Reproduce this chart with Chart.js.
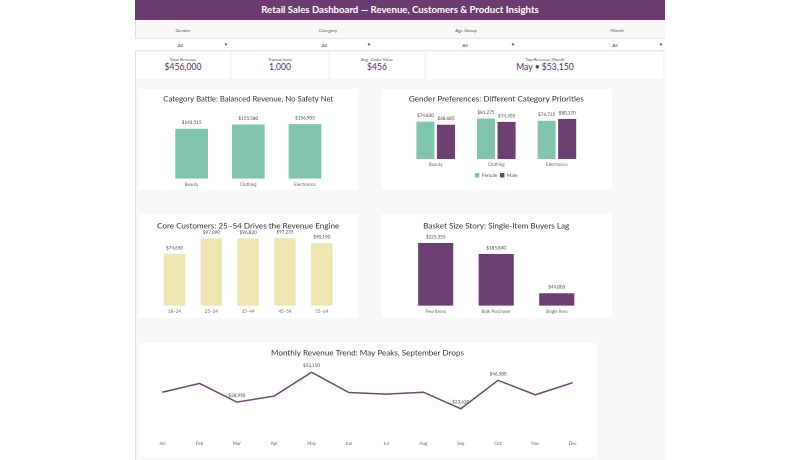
<!DOCTYPE html>
<html>
<head>
<meta charset="utf-8">
<script src="https://cdn.jsdelivr.net/npm/chart.js@4.4.1/dist/chart.umd.min.js"></script>
<style>
  html,body{margin:0;padding:0;background:#fff;width:800px;height:460px;overflow:hidden;font-family:Lato,"Open Sans",sans-serif;}
  #dash{position:absolute;left:135px;top:0;width:530px;height:460px;background:#f9f7f7;border-left:1px solid #e2e0e0;box-sizing:border-box;}
  #header{position:absolute;left:135px;top:0;width:530px;height:19.5px;background:#6c3b72;color:#fff;font-weight:bold;font-size:9.6px;line-height:19.5px;text-align:center;}
  .flabel{position:absolute;top:27px;font-size:4.6px;color:#555;transform:translateX(-50%);white-space:nowrap;}
  .fall{position:absolute;top:41.8px;font-size:4.6px;color:#444;transform:translateX(-50%);}
  .farrow{position:absolute;top:41.5px;font-size:4.4px;color:#444;transform:translateX(-50%);}
  #frow{position:absolute;left:135px;top:38px;width:530px;height:13px;background:#fff;border-top:1px solid #e7e5e5;border-bottom:1px solid #e7e5e5;box-sizing:border-box;}
  .kpi{position:absolute;top:51.5px;height:27px;background:#fff;border-radius:1px;box-shadow:0 0 1px rgba(0,0,0,0.08);}
  .klabel{position:absolute;top:5px;width:100%;text-align:center;font-size:4.4px;color:#555;}
  .kval{position:absolute;top:10.5px;width:100%;text-align:center;font-size:8.6px;color:#5b2c60;}
  .panel{position:absolute;background:#fff;}
  .cwrap{position:absolute;}
</style>
</head>
<body>
<div id="dash"></div>
<div id="header">Retail Sales Dashboard — Revenue, Customers &amp; Product Insights</div>

<div id="frow"></div>
<div class="flabel" style="left:183px">Gender</div>
<div class="flabel" style="left:328px">Category</div>
<div class="flabel" style="left:466px">Age Group</div>
<div class="flabel" style="left:617px">Month</div>
<div class="fall" style="left:180.5px">All</div>
<div class="fall" style="left:324.5px">All</div>
<div class="fall" style="left:465px">All</div>
<div class="fall" style="left:615px">All</div>
<div class="farrow" style="left:226px">▼</div>
<div class="farrow" style="left:369px">▼</div>
<div class="farrow" style="left:513px">▼</div>
<div class="farrow" style="left:661px">▼</div>

<div class="kpi" style="left:136px;width:94px"><div class="klabel">Total Revenue</div><div class="kval" id="kRev"></div></div>
<div class="kpi" style="left:232px;width:96px"><div class="klabel">Transactions</div><div class="kval" id="kTx"></div></div>
<div class="kpi" style="left:330px;width:94px"><div class="klabel">Avg. Order Value</div><div class="kval" id="kAov"></div></div>
<div class="kpi" style="left:427px;width:236px"><div class="klabel">Top Revenue Month</div><div class="kval" id="kTop"></div></div>

<div class="panel" style="left:139px;top:89px;width:219px;height:101px"></div>
<div class="panel" style="left:381px;top:89px;width:231px;height:101px"></div>
<div class="panel" style="left:139px;top:214px;width:219px;height:104px"></div>
<div class="panel" style="left:381px;top:214px;width:231px;height:104px"></div>
<div class="panel" style="left:139px;top:343px;width:458px;height:115px"></div>

<div class="cwrap" style="left:139px;top:89px;width:219px;height:101px"><canvas id="c1"></canvas></div>
<div class="cwrap" style="left:381px;top:89px;width:231px;height:101px"><canvas id="c2"></canvas></div>
<div class="cwrap" style="left:139px;top:214px;width:219px;height:104px"><canvas id="c3"></canvas></div>
<div class="cwrap" style="left:381px;top:214px;width:231px;height:104px"><canvas id="c4"></canvas></div>
<div class="cwrap" style="left:139px;top:343px;width:458px;height:115px"><canvas id="c5"></canvas></div>

<script>
// ---- data ----
const categories = ['Beauty', 'Clothing', 'Electronics'];
const categoryRevenue = [143515, 155580, 156905];
const genderFemale = [74830, 81275, 76735];
const genderMale = [68685, 74305, 80170];
const ageGroups = ['18–24', '25–34', '35–44', '45–54', '55–64'];
const ageRevenue = [74650, 97090, 96820, 97235, 90190];
const basketLabels = ['Few Items', 'Bulk Purchaser', 'Single Item'];
const basketRevenue = [225355, 185840, 44805];
const months = ['Jan', 'Feb', 'Mar', 'Apr', 'May', 'Jun', 'Jul', 'Aug', 'Sep', 'Oct', 'Nov', 'Dec'];
const monthlyRevenue = [36980, 44060, 28990, 33870, 53150, 36715, 35465, 36960, 23620, 46580, 34920, 44690];
const totalRevenue = 456000;
const transactions = 1000;

// ---- colors ----
const TEAL = '#82c5ae';
const PURPLE = '#6e3f73';
const YELLOW = '#eee6b0';
const LINE = '#6b4a72';

const fmt = v => '$' + v.toLocaleString('en-US');

document.getElementById('kRev').textContent = fmt(totalRevenue);
document.getElementById('kTx').textContent = transactions.toLocaleString('en-US');
document.getElementById('kAov').textContent = fmt(Math.round(totalRevenue / transactions));
const topIdx = monthlyRevenue.indexOf(Math.max(...monthlyRevenue));
document.getElementById('kTop').textContent = months[topIdx] + ' • ' + fmt(monthlyRevenue[topIdx]);

Chart.defaults.font.family = 'Lato, "Open Sans", sans-serif';
Chart.defaults.color = '#555';
Chart.defaults.animation = false;

const valueLabels = {
  id: 'valueLabels',
  afterDatasetsDraw(chart, args, opts) {
    const ctx = chart.ctx;
    ctx.save();
    ctx.font = (opts.size || 4.6) + 'px Lato, sans-serif';
    ctx.fillStyle = opts.color || '#444';
    ctx.textAlign = 'center';
    ctx.textBaseline = 'middle';
    chart.data.datasets.forEach((ds, di) => {
      const meta = chart.getDatasetMeta(di);
      meta.data.forEach((el, i) => {
        if (opts.only && !opts.only.includes(i)) return;
        ctx.fillText(fmt(ds.data[i]), el.x, el.y - (opts.offset || 6));
      });
    });
    ctx.restore();
  }
};

function titleOpt(text, top, bottom) {
  return { display: true, text, color: '#333', font: { size: 8.1, weight: 'normal' }, padding: { top, bottom } };
}
function xAxis() {
  return {
    grid: { display: false, drawTicks: false },
    border: { display: false },
    ticks: { font: { size: 4.5 }, color: '#666', padding: 3, maxRotation: 0, autoSkip: false }
  };
}

// Chart 1: category
new Chart(document.getElementById('c1'), {
  type: 'bar',
  data: { labels: categories, datasets: [{ label: 'Revenue', data: categoryRevenue, backgroundColor: TEAL, categoryPercentage: 1, barPercentage: 0.577 }] },
  options: {
    responsive: true, maintainAspectRatio: false, devicePixelRatio: 2,
    layout: { padding: { left: 24.3, right: 24.7, top: 0, bottom: 0 } },
    plugins: { legend: { display: false }, tooltip: { enabled: false },
      title: titleOpt('Category Battle: Balanced Revenue, No Safety Net', 5.2, 5.2), valueLabels: { offset: 6 } },
    scales: { x: xAxis(), y: { display: false, min: 0, max: 200000 } }
  },
  plugins: [valueLabels]
});

// Chart 2: gender
new Chart(document.getElementById('c2'), {
  type: 'bar',
  data: { labels: categories, datasets: [
    { label: 'Female', data: genderFemale, backgroundColor: TEAL, categoryPercentage: 0.678, barPercentage: 0.88 },
    { label: 'Male', data: genderMale, backgroundColor: PURPLE, categoryPercentage: 0.678, barPercentage: 0.88 }
  ] },
  options: {
    responsive: true, maintainAspectRatio: false, devicePixelRatio: 2,
    layout: { padding: { left: 24.4, right: 24.8, top: 0, bottom: 2.2 } },
    plugins: {
      legend: { display: true, position: 'bottom', labels: { font: { size: 5 }, boxWidth: 4.5, boxHeight: 4.5, padding: 2.4, color: '#555' } },
      tooltip: { enabled: false },
      title: titleOpt('Gender Preferences: Different Category Priorities', 5.2, 5.2), valueLabels: { offset: 6 } },
    scales: { x: xAxis(), y: { display: false, min: 0, max: 100000 } }
  },
  plugins: [valueLabels]
});

// Chart 3: age
new Chart(document.getElementById('c3'), {
  type: 'bar',
  data: { labels: ageGroups, datasets: [{ label: 'Revenue', data: ageRevenue, backgroundColor: YELLOW, categoryPercentage: 1, barPercentage: 0.58 }] },
  options: {
    responsive: true, maintainAspectRatio: false, devicePixelRatio: 2,
    layout: { padding: { left: 17.1, right: 17.8, top: 0, bottom: 0.9 } },
    plugins: { legend: { display: false }, tooltip: { enabled: false },
      title: titleOpt('Core Customers: 25–54 Drives the Revenue Engine', 6.9, 5.7), valueLabels: { offset: 6 } },
    scales: { x: xAxis(), y: { display: false, min: 0, max: 100000 } }
  },
  plugins: [valueLabels]
});

// Chart 4: basket
new Chart(document.getElementById('c4'), {
  type: 'bar',
  data: { labels: basketLabels, datasets: [{ label: 'Revenue', data: basketRevenue, backgroundColor: PURPLE, categoryPercentage: 1, barPercentage: 0.58 }] },
  options: {
    responsive: true, maintainAspectRatio: false, devicePixelRatio: 2,
    layout: { padding: { left: 24.4, right: 25, top: 0, bottom: 0.9 } },
    plugins: { legend: { display: false }, tooltip: { enabled: false },
      title: titleOpt('Basket Size Story: Single-Item Buyers Lag', 6.9, 5.5), valueLabels: { offset: 6 } },
    scales: { x: xAxis(), y: { display: false, min: 0, max: 250000 } }
  },
  plugins: [valueLabels]
});

// Chart 5: monthly trend — label two highest and two lowest months
const sortedIdx = monthlyRevenue.map((v, i) => i).sort((a, b) => monthlyRevenue[a] - monthlyRevenue[b]);
const labelIdx = [sortedIdx[0], sortedIdx[1], sortedIdx[sortedIdx.length - 1], sortedIdx[sortedIdx.length - 2]];
new Chart(document.getElementById('c5'), {
  type: 'line',
  data: { labels: months, datasets: [{ label: 'Revenue', data: monthlyRevenue, borderColor: LINE, borderWidth: 1.5, pointRadius: 0, tension: 0, fill: false }] },
  options: {
    responsive: true, maintainAspectRatio: false, devicePixelRatio: 2,
    layout: { padding: { left: 23.3, right: 24.3, top: 0, bottom: 8.6 } },
    plugins: { legend: { display: false }, tooltip: { enabled: false },
      title: titleOpt('Monthly Revenue Trend: May Peaks, September Drops', 4.9, 6.1), valueLabels: { offset: 6.5, only: labelIdx } },
    scales: { x: Object.assign(xAxis(), { offset: false }), y: { display: false, min: 0, max: 60000 } }
  },
  plugins: [valueLabels]
});
</script>
</body>
</html>
